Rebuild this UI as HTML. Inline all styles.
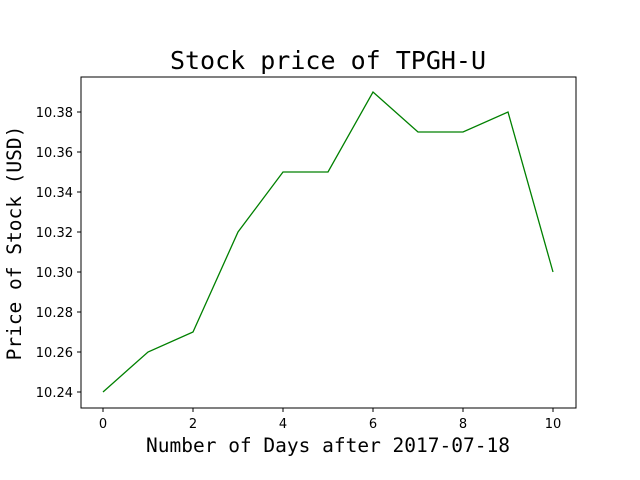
<!DOCTYPE html>
<html><head><meta charset="utf-8"><style>
body{margin:0;background:#fff;}
svg{display:block;}
</style></head><body>
<svg id="chart" width="640" height="480" xmlns="http://www.w3.org/2000/svg">
<rect x="0" y="0" width="640" height="480" fill="#fff"/>
<text x="328" y="69" text-anchor="middle" font-family="DejaVu Sans Mono, monospace" font-size="25">Stock price of TPGH-U</text>
<text x="328" y="452" text-anchor="middle" font-family="DejaVu Sans Mono, monospace" font-size="19.5">Number of Days after 2017-07-18</text>
<text transform="translate(21,243) rotate(-90)" text-anchor="middle" font-family="DejaVu Sans Mono, monospace" font-size="19.5">Price of Stock (USD)</text>
<g id="ticks"></g>
<polyline id="line" fill="none" stroke="green" stroke-width="1.3"/>
<rect x="81" y="77" width="495" height="331" fill="none" stroke="#000" stroke-width="1"/>
</svg>
<script>
const days=[0,1,2,3,4,5,6,7,8,9,10];
const prices=[10.24,10.26,10.27,10.32,10.35,10.35,10.39,10.37,10.37,10.38,10.30];
const xTicks=[0,2,4,6,8,10];
const yTicks=[10.24,10.26,10.28,10.30,10.32,10.34,10.36,10.38];
function xs(v){return 103+v*45;}
function ys(v){return 392-(v-10.24)*2000;}
const ns="http://www.w3.org/2000/svg";
const g=document.getElementById('ticks');
function mk(t,a){const e=document.createElementNS(ns,t);for(const k in a)e.setAttribute(k,a[k]);g.appendChild(e);return e;}
xTicks.forEach(v=>{
 const l=mk('line',{x1:xs(v),x2:xs(v),y1:408,y2:412,stroke:'#000'});
 
 
 const t=mk('text',{x:xs(v),y:428,'text-anchor':'middle','font-family':'DejaVu Sans, sans-serif','font-size':'13'});
 t.textContent=v;
 
 
});
yTicks.forEach(v=>{
 const l=mk('line',{x1:77,x2:81,y1:ys(v),y2:ys(v),stroke:'#000'});
 
 
 const t=mk('text',{x:73,y:ys(v)+5,'text-anchor':'end','font-family':'DejaVu Sans, sans-serif','font-size':'13'});
 t.textContent=v.toFixed(2);
 
 
});
document.getElementById('line').setAttribute('points',days.map((d,i)=>xs(d)+','+ys(prices[i])).join(' '));
</script>
</body></html>
